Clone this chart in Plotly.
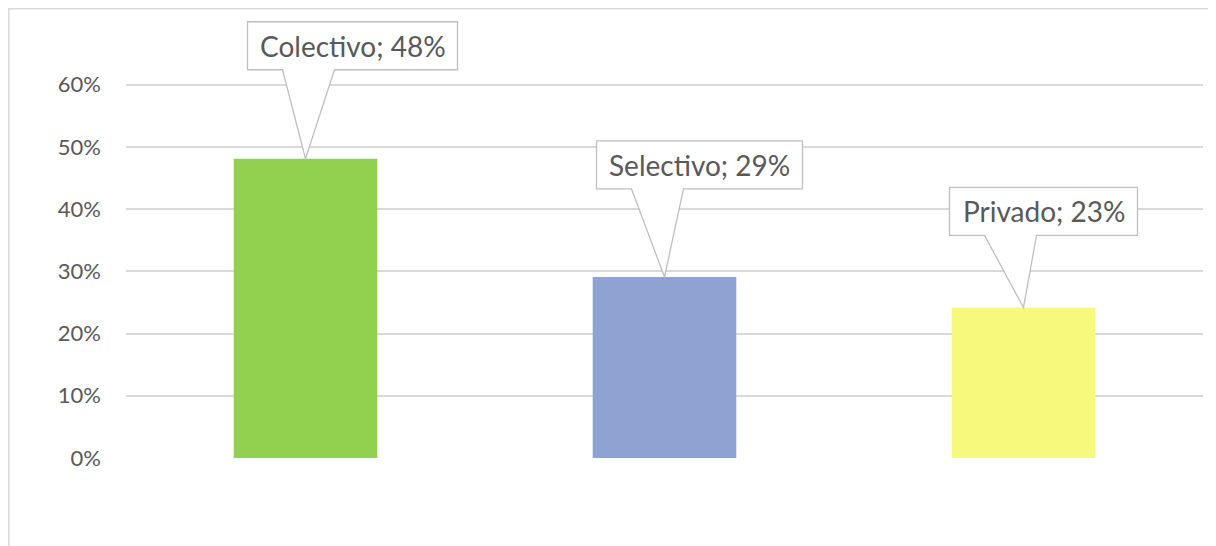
import plotly.graph_objects as go

# Data
categories = ["Colectivo", "Selectivo", "Privado"]
values = [0.481, 0.291, 0.242]
shown_pct = ["48%", "29%", "23%"]
tick_vals = [0, 0.1, 0.2, 0.3, 0.4, 0.5, 0.6]
bar_colors = ["#92D050", "#8FA3D3", "#F7F97D"]

# callout boxes: offset of box centre from bar top (px), box width (px)
callout_dx = [47, 35, 20]
callout_dy = [113, 112, 96]
callout_w = [210, 206, 188]
callout_h = 48

# a little above 60% so plotly still draws the top gridline
y_top = 0.606

# the page body adds an 8px margin, so the figure is drawn 8px in
OFF = 8
W, H = 1216 - OFF, 546 - OFF
ML, MR, MT, MB = 126 - OFF, 13, 81 - OFF, 88
plot_w = W - ML - MR
plot_h = H - MT - MB

text_grey = "#595959"
line_grey = "#D9D9D9"
box_grey = "#BFBFBF"

fig = go.Figure()

fig.add_trace(go.Bar(
    x=categories, y=values,
    marker=dict(color=bar_colors, line_width=0),
    width=0.4,
    hoverinfo="skip",
    showlegend=False
))

shapes = []
annotations = []

# outer chart border (only left and top edges are inside the frame)
shapes.append(dict(
    type="rect", xref="paper", yref="paper",
    x0=(0.75 - ML) / plot_w, x1=(W + 20 - ML) / plot_w,
    y0=-(MB + 20) / plot_h, y1=(plot_h + MT - 0.75) / plot_h,
    line=dict(color=line_grey, width=1.5),
    fillcolor="rgba(0,0,0,0)",
    layer="below"
))

n = len(categories)
for i, cat in enumerate(categories):
    dx, dy, w = callout_dx[i], callout_dy[i], callout_w[i]
    L, R = dx - w / 2, dx + w / 2
    T, B = dy + callout_h / 2, dy - callout_h / 2
    path = ("M {L},{B} L {L},{T} L {R},{T} L {R},{B} L {p2},{B} L 0,0 L {p1},{B} Z"
            .format(L=L, R=R, T=T, B=B, p1=L + 35, p2=L + 87))
    shapes.append(dict(
        type="path", path=path,
        xref="paper", yref="paper",
        xsizemode="pixel", ysizemode="pixel",
        xanchor=(i + 0.5) / n, yanchor=values[i] / y_top,
        line=dict(color=box_grey, width=1.3),
        fillcolor="white",
        layer="above"
    ))
    annotations.append(dict(
        x=cat, y=values[i], xref="x", yref="y",
        text="{}; {}".format(cat, shown_pct[i]),
        showarrow=False,
        xshift=dx, yshift=dy,
        font=dict(size=28, color=text_grey, family="Lato")
    ))

fig.update_layout(
    width=W, height=H,
    margin=dict(l=ML, r=MR, t=MT, b=MB),
    paper_bgcolor="white",
    plot_bgcolor="white",
    font=dict(family="Lato", color=text_grey),
    shapes=shapes,
    annotations=annotations,
    xaxis=dict(
        range=[-0.5, n - 0.5],
        showticklabels=False,
        showgrid=False,
        zeroline=False,
        showline=False,
        fixedrange=True
    ),
    yaxis=dict(
        range=[0, y_top],
        tickvals=tick_vals,
        tickformat=".0%",
        tickfont=dict(size=22, color=text_grey, family="Lato"),
        showgrid=True,
        gridcolor=line_grey,
        gridwidth=1.5,
        zeroline=False,
        showline=False,
        ticks="",
        ticklabelstandoff=24,
        fixedrange=True
    )
)

fig.write_html("out.html")
